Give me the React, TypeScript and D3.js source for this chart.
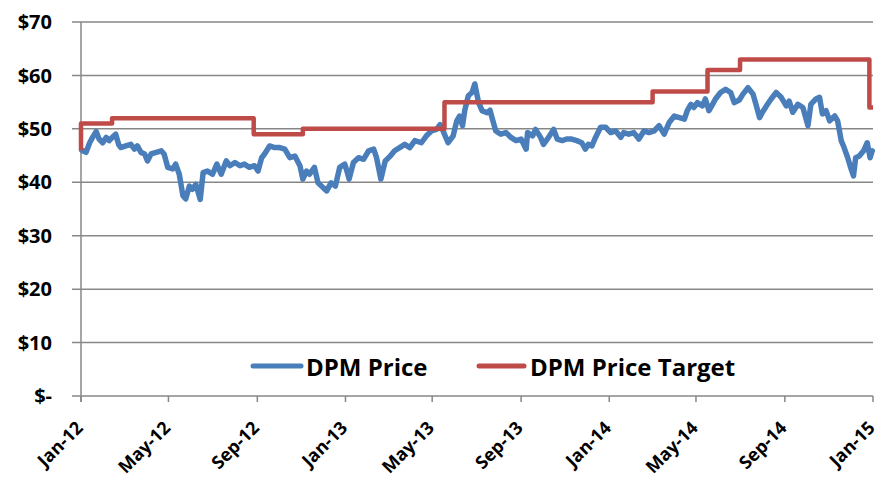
import React from "react";
import * as d3 from "d3";

const priceDates = [
  "2012-01-02","2012-01-08","2012-01-13","2012-01-17","2012-01-22","2012-01-26","2012-01-31","2012-02-05","2012-02-09","2012-02-14",
  "2012-02-18","2012-02-22","2012-02-25","2012-03-03","2012-03-10","2012-03-15","2012-03-19","2012-03-24","2012-03-29","2012-04-02",
  "2012-04-07","2012-04-14","2012-04-21","2012-04-25","2012-04-30","2012-05-07","2012-05-11","2012-05-16","2012-05-21","2012-05-25",
  "2012-05-30","2012-06-03","2012-06-08","2012-06-14","2012-06-18","2012-06-24","2012-07-01","2012-07-07","2012-07-13","2012-07-20",
  "2012-07-25","2012-08-01","2012-08-08","2012-08-14","2012-08-21","2012-08-28","2012-09-02","2012-09-07","2012-09-11","2012-09-18",
  "2012-09-25","2012-10-02","2012-10-09","2012-10-16","2012-10-23","2012-10-30","2012-11-03","2012-11-08","2012-11-12","2012-11-19",
  "2012-11-24","2012-12-01","2012-12-06","2012-12-12","2012-12-18","2012-12-24","2012-12-31","2013-01-03","2013-01-06","2013-01-12",
  "2013-01-19","2013-01-26","2013-02-02","2013-02-09","2013-02-13","2013-02-19","2013-02-25","2013-03-04","2013-03-10","2013-03-17",
  "2013-03-24","2013-03-31","2013-04-07","2013-04-16","2013-04-23","2013-04-30","2013-05-07","2013-05-12","2013-05-16","2013-05-23",
  "2013-05-30","2013-06-04","2013-06-08","2013-06-12","2013-06-15","2013-06-20","2013-06-25","2013-06-29","2013-07-04","2013-07-09",
  "2013-07-16","2013-07-20","2013-07-23","2013-07-28","2013-08-04","2013-08-11","2013-08-18","2013-08-25","2013-09-01","2013-09-08",
  "2013-09-10","2013-09-17","2013-09-21","2013-09-28","2013-10-02","2013-10-09","2013-10-16","2013-10-21","2013-10-28","2013-11-03",
  "2013-11-10","2013-11-17","2013-11-24","2013-11-29","2013-12-03","2013-12-08","2013-12-13","2013-12-20","2013-12-27","2014-01-03",
  "2014-01-10","2014-01-17","2014-01-21","2014-01-28","2014-02-04","2014-02-11","2014-02-18","2014-02-25","2014-03-04","2014-03-11",
  "2014-03-18","2014-03-25","2014-04-01","2014-04-08","2014-04-15","2014-04-19","2014-04-24","2014-04-28","2014-05-03","2014-05-10",
  "2014-05-14","2014-05-19","2014-05-24","2014-05-28","2014-06-04","2014-06-11","2014-06-18","2014-06-23","2014-06-30","2014-07-05",
  "2014-07-12","2014-07-19","2014-07-23","2014-07-28","2014-08-01","2014-08-08","2014-08-13","2014-08-20","2014-08-27","2014-09-03",
  "2014-09-07","2014-09-12","2014-09-19","2014-09-26","2014-10-03","2014-10-07","2014-10-14","2014-10-19","2014-10-23","2014-10-28",
  "2014-11-02","2014-11-09","2014-11-13","2014-11-18","2014-11-22","2014-11-27","2014-12-01","2014-12-05","2014-12-08","2014-12-13",
  "2014-12-19","2014-12-24","2014-12-28","2014-12-31",
];

const priceValues = [
  46.0,45.6,47.4,48.4,49.5,48.1,47.4,48.4,47.8,48.5,
  49.0,47.1,46.5,46.8,47.1,46.2,46.8,45.6,45.3,44.0,
  45.3,45.6,45.9,45.3,42.8,42.5,43.4,41.5,37.5,36.9,
  39.3,38.7,39.6,36.8,41.8,42.1,41.5,43.4,41.5,44.0,
  43.1,43.7,43.1,43.4,42.8,43.1,42.1,44.6,45.3,46.8,
  46.5,46.5,46.2,44.6,44.9,43.1,40.6,42.1,41.5,42.8,
  39.9,39.0,38.4,39.9,39.3,42.8,43.4,42.1,40.6,43.7,
  44.6,44.3,45.9,46.2,44.6,40.6,44.0,44.9,45.9,46.5,
  47.1,46.5,47.8,47.4,48.7,49.6,49.9,50.8,49.6,47.4,
  48.7,51.5,52.4,50.6,53.4,56.2,56.8,58.4,55.0,53.4,
  53.0,53.5,52.0,49.6,49.0,49.3,48.4,47.8,48.1,46.2,
  49.3,48.7,49.9,48.4,47.1,48.4,49.9,48.1,47.8,48.1,
  48.1,47.8,47.4,46.2,47.1,46.8,48.4,50.3,50.3,49.3,
  49.6,48.4,49.3,49.0,49.3,48.1,49.6,49.3,49.6,50.6,
  49.0,51.2,52.4,52.1,51.8,53.4,54.6,54.0,54.9,54.3,
  55.6,53.4,54.6,55.6,56.8,57.4,56.8,54.9,55.4,56.5,
  57.7,56.5,54.6,52.1,53.1,54.6,55.6,56.8,55.9,54.3,
  55.2,53.1,54.6,54.0,50.6,54.6,55.6,55.9,52.8,53.4,
  51.5,52.4,51.5,47.8,46.5,44.6,42.8,41.2,44.6,44.9,
  45.9,47.4,44.6,45.9,
];

const targetDates = [
  "2012-01-01","2012-01-01","2012-02-13","2012-08-27","2012-11-03","2013-05-18",
  "2014-03-02","2014-05-17","2014-07-01","2014-12-27","2015-01-01",
];
const targetValues = [46, 51, 52, 49, 50, 55, 57, 61, 63, 54, 54];

const yTicks = [0, 10, 20, 30, 40, 50, 60, 70];
const yTickLabels = ["$-", "$10", "$20", "$30", "$40", "$50", "$60", "$70"];
const xTickDates = [
  "2012-01-01","2012-05-01","2012-09-01","2013-01-01","2013-05-01",
  "2013-09-01","2014-01-01","2014-05-01","2014-09-01","2015-01-01",
];
const xTickLabels = [
  "Jan-12","May-12","Sep-12","Jan-13","May-13","Sep-13","Jan-14","May-14","Sep-14","Jan-15",
];
const seriesNames = ["DPM Price", "DPM Price Target"];
const seriesColors = ["#4A7EBB", "#BE4B48"];

const W = 879;
const H = 482;
const LEFT = 81;
const RIGHT = 873;
const TOP = 22;
const BOTTOM = 396;
const FONT = "'Open Sans', 'Lato', sans-serif";
const GRID = "#878787";

const parse = d3.timeParse("%Y-%m-%d");

export default function App() {
  const x = d3
    .scaleTime()
    .domain([parse("2012-01-01")!, parse("2015-01-01")!])
    .range([LEFT, RIGHT]);
  const y = d3.scaleLinear().domain([0, 70]).range([BOTTOM, TOP]);

  const price = priceDates.map((d, i) => ({ d: parse(d)!, v: priceValues[i] }));
  const target = targetDates.map((d, i) => ({ d: parse(d)!, v: targetValues[i] }));

  const linePrice = d3
    .line<{ d: Date; v: number }>()
    .x((p) => x(p.d))
    .y((p) => y(p.v))
    .curve(d3.curveLinear);
  const lineTarget = d3
    .line<{ d: Date; v: number }>()
    .x((p) => x(p.d))
    .y((p) => y(p.v))
    .curve(d3.curveStepAfter);

  return (
    <svg
      width={W}
      height={H}
      style={{ position: "absolute", left: 0, top: 0, background: "#fff" }}
      fontFamily={FONT}
    >
      {yTicks.map((t, i) => (
        <g key={t}>
          <line x1={LEFT - 9} x2={RIGHT} y1={y(t)} y2={y(t)} stroke={GRID} strokeWidth={1.5} />
          <text
            x={52}
            y={y(t)}
            dy="0.36em"
            textAnchor="end"
            fontSize={20}
            fontWeight={700}
            fill="#000"
          >
            {yTickLabels[i]}
          </text>
        </g>
      ))}
      <line x1={LEFT} x2={LEFT} y1={TOP} y2={BOTTOM + 6} stroke={GRID} strokeWidth={1.5} />
      {xTickDates.map((d, i) => {
        const xp = x(parse(d)!);
        return (
          <g key={d}>
            <line x1={xp} x2={xp} y1={BOTTOM} y2={BOTTOM + 6} stroke={GRID} strokeWidth={1.5} />
            <text
              transform={`translate(${xp + 3},${429}) rotate(-45)`}
              textAnchor="end"
              fontSize={18}
              fontWeight={700}
              fill="#000"
            >
              {xTickLabels[i]}
            </text>
          </g>
        );
      })}
      <path
        d={linePrice(price) ?? ""}
        fill="none"
        stroke={seriesColors[0]}
        strokeWidth={5.5}
        strokeLinejoin="round"
        strokeLinecap="round"
      />
      <path
        d={lineTarget(target) ?? ""}
        fill="none"
        stroke={seriesColors[1]}
        strokeWidth={4.5}
        strokeLinejoin="round"
      />
      <g>
        <line x1={253} x2={301} y1={366} y2={366} stroke={seriesColors[0]} strokeWidth={5} strokeLinecap="round" />
        <text x={306} y={376} fontSize={24} fontWeight={700} fill="#000">
          {seriesNames[0]}
        </text>
        <line x1={479} x2={524} y1={366} y2={366} stroke={seriesColors[1]} strokeWidth={5} strokeLinecap="round" />
        <text x={530} y={376} fontSize={24} fontWeight={700} fill="#000">
          {seriesNames[1]}
        </text>
      </g>
    </svg>
  );
}
